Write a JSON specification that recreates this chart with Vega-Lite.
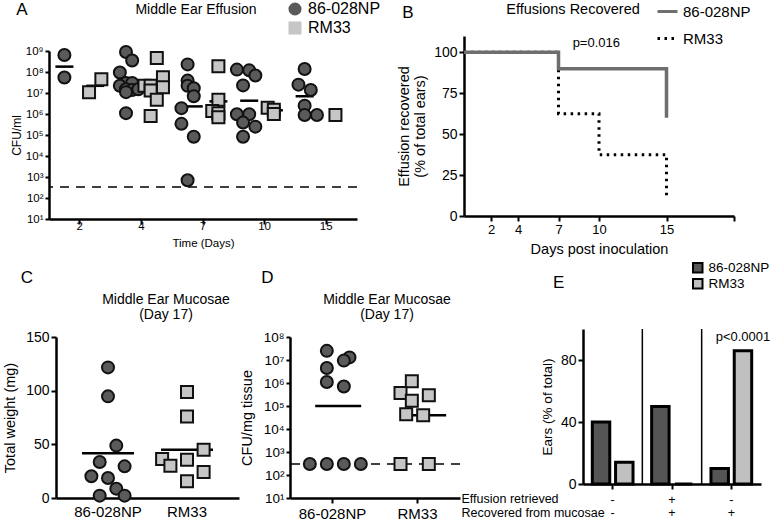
{
  "$schema": "https://vega.github.io/schema/vega-lite/v6.json",
  "background": "white",
  "padding": {"left": 2, "top": 0, "right": 0, "bottom": 0},
  "config": {
    "font": "Liberation Sans",
    "view": {"stroke": null},
    "axis": {"domainColor": "black", "domainWidth": 2.5, "tickColor": "black", "tickWidth": 2, "tickSize": 5, "labelColor": "black", "titleColor": "black", "titleFontWeight": "normal", "grid": false, "labelFontSize": 13, "titleFontSize": 14},
    "title": {"fontWeight": "normal", "color": "black", "fontSize": 14},
    "legend": {"labelColor": "black"}
  },
  "datasets": {
    "ptsA": [
      {"day": 2, "strain": "86-028NP", "cfu": 650000000, "slot": "c3"},
      {"day": 2, "strain": "86-028NP", "cfu": 55000000, "slot": "c3"},
      {"day": 2, "strain": "RM33", "cfu": 11000000, "slot": "s2"},
      {"day": 2, "strain": "RM33", "cfu": 45000000, "slot": "s4"},
      {"day": 4, "strain": "86-028NP", "cfu": 900000000, "slot": "c3"},
      {"day": 4, "strain": "86-028NP", "cfu": 350000000, "slot": "c4"},
      {"day": 4, "strain": "86-028NP", "cfu": 95000000, "slot": "c2"},
      {"day": 4, "strain": "86-028NP", "cfu": 30000000, "slot": "c3"},
      {"day": 4, "strain": "86-028NP", "cfu": 22000000, "slot": "c2"},
      {"day": 4, "strain": "86-028NP", "cfu": 30000000, "slot": "c4"},
      {"day": 4, "strain": "86-028NP", "cfu": 15000000, "slot": "c3"},
      {"day": 4, "strain": "86-028NP", "cfu": 14000000, "slot": "c4"},
      {"day": 4, "strain": "86-028NP", "cfu": 15000000, "slot": "c5"},
      {"day": 4, "strain": "86-028NP", "cfu": 11000000, "slot": "c3"},
      {"day": 4, "strain": "86-028NP", "cfu": 1100000, "slot": "c3"},
      {"day": 4, "strain": "RM33", "cfu": 460000000, "slot": "s3"},
      {"day": 4, "strain": "RM33", "cfu": 56000000, "slot": "s4"},
      {"day": 4, "strain": "RM33", "cfu": 22000000, "slot": "s1"},
      {"day": 4, "strain": "RM33", "cfu": 22000000, "slot": "s2"},
      {"day": 4, "strain": "RM33", "cfu": 19000000, "slot": "s4"},
      {"day": 4, "strain": "RM33", "cfu": 13000000, "slot": "s2"},
      {"day": 4, "strain": "RM33", "cfu": 4800000, "slot": "s3"},
      {"day": 4, "strain": "RM33", "cfu": 800000, "slot": "s2"},
      {"day": 7, "strain": "86-028NP", "cfu": 230000000, "slot": "c3"},
      {"day": 7, "strain": "86-028NP", "cfu": 39000000, "slot": "c3"},
      {"day": 7, "strain": "86-028NP", "cfu": 22000000, "slot": "c3"},
      {"day": 7, "strain": "86-028NP", "cfu": 17000000, "slot": "c4"},
      {"day": 7, "strain": "86-028NP", "cfu": 7000000, "slot": "c4"},
      {"day": 7, "strain": "86-028NP", "cfu": 1900000, "slot": "c2"},
      {"day": 7, "strain": "86-028NP", "cfu": 340000, "slot": "c2"},
      {"day": 7, "strain": "86-028NP", "cfu": 83000, "slot": "c4"},
      {"day": 7, "strain": "86-028NP", "cfu": 700, "slot": "c3"},
      {"day": 7, "strain": "RM33", "cfu": 190000000, "slot": "s3"},
      {"day": 7, "strain": "RM33", "cfu": 4800000, "slot": "s3"},
      {"day": 7, "strain": "RM33", "cfu": 1400000, "slot": "s2"},
      {"day": 7, "strain": "RM33", "cfu": 1100000, "slot": "s3"},
      {"day": 7, "strain": "RM33", "cfu": 700000, "slot": "s3"},
      {"day": 10, "strain": "86-028NP", "cfu": 130000000, "slot": "c1"},
      {"day": 10, "strain": "86-028NP", "cfu": 120000000, "slot": "c3"},
      {"day": 10, "strain": "86-028NP", "cfu": 68000000, "slot": "c4"},
      {"day": 10, "strain": "86-028NP", "cfu": 23000000, "slot": "c2"},
      {"day": 10, "strain": "86-028NP", "cfu": 980000, "slot": "c1"},
      {"day": 10, "strain": "86-028NP", "cfu": 980000, "slot": "c3"},
      {"day": 10, "strain": "86-028NP", "cfu": 390000, "slot": "c2"},
      {"day": 10, "strain": "86-028NP", "cfu": 250000, "slot": "c4"},
      {"day": 10, "strain": "86-028NP", "cfu": 83000, "slot": "c2"},
      {"day": 10, "strain": "RM33", "cfu": 2000000, "slot": "s1"},
      {"day": 10, "strain": "RM33", "cfu": 1600000, "slot": "s2"},
      {"day": 10, "strain": "RM33", "cfu": 1000000, "slot": "s2"},
      {"day": 15, "strain": "86-028NP", "cfu": 140000000, "slot": "c2"},
      {"day": 15, "strain": "86-028NP", "cfu": 25000000, "slot": "c1"},
      {"day": 15, "strain": "86-028NP", "cfu": 14000000, "slot": "c3"},
      {"day": 15, "strain": "86-028NP", "cfu": 2500000, "slot": "c2"},
      {"day": 15, "strain": "86-028NP", "cfu": 900000, "slot": "c2"},
      {"day": 15, "strain": "86-028NP", "cfu": 900000, "slot": "c4"},
      {"day": 15, "strain": "RM33", "cfu": 900000, "slot": "s2"}
    ],
    "meanA": [
      {"day": 2, "strain": "86-028NP", "cfu": 180000000, "slot": "c3"},
      {"day": 2, "strain": "RM33", "cfu": 22000000, "slot": "s3"},
      {"day": 4, "strain": "86-028NP", "cfu": 25000000, "slot": "c3"},
      {"day": 4, "strain": "RM33", "cfu": 27000000, "slot": "s2"},
      {"day": 7, "strain": "86-028NP", "cfu": 2300000, "slot": "c4"},
      {"day": 7, "strain": "RM33", "cfu": 4000000, "slot": "s3"},
      {"day": 10, "strain": "86-028NP", "cfu": 4300000, "slot": "c3"},
      {"day": 10, "strain": "RM33", "cfu": 1500000, "slot": "s2"},
      {"day": 15, "strain": "86-028NP", "cfu": 7000000, "slot": "c2"}
    ],
    "kmB": [
      {"strain": "86-028NP", "day": 0, "pct": 100},
      {"strain": "86-028NP", "day": 7, "pct": 90},
      {"strain": "86-028NP", "day": 15, "pct": 60},
      {"strain": "RM33", "day": 0, "pct": 100},
      {"strain": "RM33", "day": 7, "pct": 62.5},
      {"strain": "RM33", "day": 10, "pct": 37.5},
      {"strain": "RM33", "day": 15, "pct": 12.5}
    ],
    "ptsC": [
      {"strain": "86-028NP", "weight": 121.7, "slot": 0},
      {"strain": "86-028NP", "weight": 94.7, "slot": 0},
      {"strain": "86-028NP", "weight": 48.8, "slot": 1},
      {"strain": "86-028NP", "weight": 33.5, "slot": -1},
      {"strain": "86-028NP", "weight": 29.5, "slot": 2},
      {"strain": "86-028NP", "weight": 20.2, "slot": -2},
      {"strain": "86-028NP", "weight": 18.6, "slot": 0},
      {"strain": "86-028NP", "weight": 8.7, "slot": 1},
      {"strain": "86-028NP", "weight": 2.2, "slot": -1},
      {"strain": "86-028NP", "weight": 2.2, "slot": 2},
      {"strain": "RM33", "weight": 98.8, "slot": 0},
      {"strain": "RM33", "weight": 76, "slot": 0},
      {"strain": "RM33", "weight": 36.3, "slot": -3},
      {"strain": "RM33", "weight": 30.1, "slot": -2},
      {"strain": "RM33", "weight": 35.7, "slot": 0},
      {"strain": "RM33", "weight": 45, "slot": 2},
      {"strain": "RM33", "weight": 24.2, "slot": 2},
      {"strain": "RM33", "weight": 15.5, "slot": 0}
    ],
    "meanC": [
      {"strain": "86-028NP", "weight": 41.6, "slot": 0},
      {"strain": "RM33", "weight": 45, "slot": 0}
    ],
    "ptsD": [
      {"strain": "86-028NP", "cfu": 25000000, "slot": -1},
      {"strain": "86-028NP", "cfu": 13000000, "slot": 3},
      {"strain": "86-028NP", "cfu": 9400000, "slot": 2},
      {"strain": "86-028NP", "cfu": 4500000, "slot": -1},
      {"strain": "86-028NP", "cfu": 1100000, "slot": -1},
      {"strain": "86-028NP", "cfu": 700000, "slot": 2},
      {"strain": "86-028NP", "cfu": 300, "slot": -4},
      {"strain": "86-028NP", "cfu": 300, "slot": -1},
      {"strain": "86-028NP", "cfu": 300, "slot": 2},
      {"strain": "86-028NP", "cfu": 300, "slot": 5},
      {"strain": "RM33", "cfu": 1200000, "slot": -1},
      {"strain": "RM33", "cfu": 370000, "slot": -3},
      {"strain": "RM33", "cfu": 290000, "slot": 2},
      {"strain": "RM33", "cfu": 170000, "slot": -1},
      {"strain": "RM33", "cfu": 44000, "slot": -2},
      {"strain": "RM33", "cfu": 40000, "slot": 1},
      {"strain": "RM33", "cfu": 300, "slot": -3},
      {"strain": "RM33", "cfu": 300, "slot": 2}
    ],
    "meanD": [
      {"strain": "86-028NP", "cfu": 100000, "slot": 1},
      {"strain": "RM33", "cfu": 40000, "slot": 1}
    ],
    "barsE": [
      {"grp": "- -", "strain": "86-028NP", "pct": 40},
      {"grp": "- -", "strain": "RM33", "pct": 14},
      {"grp": "+ +", "strain": "86-028NP", "pct": 50},
      {"grp": "+ +", "strain": "RM33", "pct": 0},
      {"grp": "- +", "strain": "86-028NP", "pct": 10},
      {"grp": "- +", "strain": "RM33", "pct": 86}
    ],
    "sepE": [
      {"grp": "+ +"},
      {"grp": "- +"}
    ]
  },
  "resolve": {"scale": {"x": "independent", "y": "independent", "xOffset": "independent", "color": "independent", "fill": "independent", "shape": "independent", "strokeDash": "independent"}},
  "columns": 1,
  "align": "none",
  "spacing": 5,
  "concat": [
    {
      "hconcat": [
        {
          "title": {"text": "A", "anchor": "start", "fontSize": 17, "offset": -18, "dx": 6},
          "vconcat": [
            {
              "width": 308,
              "height": 168,
              "title": {"text": "Middle Ear Effusion", "fontSize": 14, "offset": 25, "dx": -7, "frame": "group"},
              "layer": [
                {
                  "data": {"values": [{"cfu": 330}]},
                  "mark": {"type": "rule", "strokeDash": [9, 7], "strokeWidth": 1.5, "color": "black"},
                  "encoding": {"y": {"field": "cfu", "type": "quantitative"}}
                },
                {
                  "data": {"name": "meanA"},
                  "mark": {"type": "tick", "color": "black", "thickness": 2.5, "size": 18, "opacity": 1},
                  "encoding": {
                    "x": {"field": "day", "type": "ordinal"},
                    "xOffset": {"field": "slot", "type": "nominal"},
                    "y": {"field": "cfu", "type": "quantitative"}
                  }
                },
                {
                  "data": {"name": "ptsA"},
                  "mark": {"type": "point", "filled": false, "stroke": "#111111", "strokeWidth": 2, "opacity": 1, "fillOpacity": 1, "strokeOpacity": 1},
                  "encoding": {
                    "x": {"field": "day", "type": "ordinal", "scale": {"type": "band", "domain": [2, 4, 7, 10, 15], "paddingInner": 0, "paddingOuter": 0}, "axis": {"title": "Time (Days)", "labelAngle": 0, "labelAlign": "center", "labelFontSize": 11.5, "titleFontSize": 11.5, "titlePadding": 6}},
                    "xOffset": {"field": "slot", "type": "nominal", "scale": {"domain": ["c1", "c2", "c3", "c4", "c5", "s1", "s2", "s3", "s4", "s5"], "paddingInner": 0, "paddingOuter": 0}},
                    "y": {"field": "cfu", "type": "quantitative", "scale": {"type": "log", "domain": [10, 1000000000], "nice": false}, "axis": {"title": "CFU/ml", "titlePadding": 2, "values": [10, 100, 1000, 10000, 100000, 1000000, 10000000, 100000000, 1000000000], "labelExpr": "'10' + ['⁰','¹','²','³','⁴','⁵','⁶','⁷','⁸','⁹'][round(log(datum.value)/LN10)]", "labelFontSize": 11.5, "titleFontSize": 12, "tickSize": 4}},
                    "size": {"value": 144},
                    "shape": {"field": "strain", "type": "nominal", "scale": {"domain": ["86-028NP", "RM33"], "range": ["circle", "square"]}, "legend": {"orient": "none", "legendX": 238, "legendY": -50, "title": null, "labelFontSize": 16, "symbolSize": 170, "symbolStrokeColor": "#111111", "symbolStrokeWidth": 2, "rowPadding": -3, "labelOffset": 5}},
                    "fill": {"field": "strain", "type": "nominal", "scale": {"domain": ["86-028NP", "RM33"], "range": ["#5a5a5a", "#c6c6c6"]}, "legend": {"orient": "none", "legendX": 238, "legendY": -50, "title": null, "labelFontSize": 16, "symbolSize": 170, "symbolStrokeColor": "#111111", "symbolStrokeWidth": 2, "rowPadding": -3, "labelOffset": 5}}
                  }
                }
              ]
            }
          ]
        },
        {
          "title": {"text": "B", "anchor": "start", "fontSize": 17, "offset": -22, "dx": 6},
          "vconcat": [
            {
              "width": 270,
              "height": 165,
              "title": {"text": "Effusions Recovered", "fontSize": 14.5, "offset": 19, "dx": -26, "frame": "group"},
              "layer": [
                {
                  "data": {"name": "kmB"},
                  "transform": [{"filter": "datum.strain == 'RM33'"}],
                  "mark": {"type": "line", "interpolate": "step-after", "strokeWidth": 3},
                  "encoding": {
                    "x": {"field": "day", "type": "quantitative", "scale": {"domain": [0, 20], "nice": false}, "axis": {"title": "Days post inoculation", "values": [2, 4, 7, 10, 15, 20], "labelExpr": "datum.value == 20 ? '' : datum.label", "labelFontSize": 13, "titleFontSize": 14.5, "titlePadding": 6}},
                    "y": {"field": "pct", "type": "quantitative", "scale": {"domain": [0, 110], "nice": false, "range": [165, -15]}, "axis": {"title": ["Effusion recovered", "(% of total ears)"], "values": [0, 25, 50, 75, 100], "labelFontSize": 14, "titleFontSize": 14.5, "titlePadding": 6}},
                    "color": {"field": "strain", "type": "nominal", "scale": {"domain": ["86-028NP", "RM33"], "range": ["#6e6e6e", "#000000"]}, "legend": {"orient": "none", "legendX": 192, "legendY": -51, "title": null, "labelFontSize": 15, "symbolType": "stroke", "symbolStrokeWidth": 3, "symbolSize": 400, "rowPadding": 7}},
                    "strokeDash": {"field": "strain", "type": "nominal", "scale": {"domain": ["86-028NP", "RM33"], "range": [[1, 0], [2.5, 4.5]]}, "legend": {"orient": "none", "legendX": 192, "legendY": -51, "title": null, "labelFontSize": 15, "symbolType": "stroke", "symbolStrokeWidth": 3, "symbolSize": 400, "rowPadding": 7}}
                  }
                },
                {
                  "data": {"name": "kmB"},
                  "transform": [{"filter": "datum.strain == '86-028NP'"}],
                  "mark": {"type": "line", "interpolate": "step-after", "strokeWidth": 3.5},
                  "encoding": {
                    "x": {"field": "day", "type": "quantitative"},
                    "y": {"field": "pct", "type": "quantitative"},
                    "color": {"field": "strain", "type": "nominal"},
                    "strokeDash": {"field": "strain", "type": "nominal"}
                  }
                },
                {
                  "data": {"values": [{"day": 9.8, "pct": 106, "label": "p=0.016"}]},
                  "mark": {"type": "text", "fontSize": 13, "color": "black"},
                  "encoding": {
                    "x": {"field": "day", "type": "quantitative"},
                    "y": {"field": "pct", "type": "quantitative"},
                    "text": {"field": "label"}
                  }
                }
              ]
            }
          ]
        }
      ],
      "spacing": 15,
      "resolve": {"scale": {"x": "independent", "y": "independent", "xOffset": "independent", "color": "independent", "fill": "independent", "shape": "independent", "strokeDash": "independent"}}
    },
    {
      "hconcat": [
        {
          "title": {"text": "C", "anchor": "start", "fontSize": 17, "offset": 6, "dx": 18},
          "vconcat": [
            {
              "width": 190,
              "height": 161,
              "title": {"text": ["Middle Ear Mucosae", "(Day 17)"], "fontSize": 14, "offset": 8, "lineHeight": 15, "dx": 22, "frame": "group"},
              "layer": [
                {
                  "data": {"name": "meanC"},
                  "mark": {"type": "tick", "color": "black", "thickness": 2.5, "size": 52, "opacity": 1},
                  "encoding": {
                    "x": {"field": "strain", "type": "nominal"},
                    "xOffset": {"field": "slot", "type": "nominal"},
                    "y": {"field": "weight", "type": "quantitative"}
                  }
                },
                {
                  "data": {"name": "ptsC"},
                  "mark": {"type": "point", "filled": false, "stroke": "#111111", "strokeWidth": 2, "opacity": 1, "fillOpacity": 1, "strokeOpacity": 1},
                  "encoding": {
                    "x": {"field": "strain", "type": "nominal", "scale": {"type": "band", "domain": ["86-028NP", "RM33"], "paddingInner": 0, "paddingOuter": 0.158, "range": [7, 190]}, "axis": {"title": null, "labelAngle": 0, "labelAlign": "center", "labelFontSize": 15, "ticks": false, "labelPadding": 13}},
                    "xOffset": {"field": "slot", "type": "nominal", "scale": {"domain": [-4, -3, -2, -1, 0, 1, 2, 3, 4], "paddingInner": 0, "paddingOuter": 0.26}},
                    "y": {"field": "weight", "type": "quantitative", "scale": {"domain": [0, 150], "nice": false}, "axis": {"title": "Total weight (mg)", "offset": -7, "values": [0, 50, 100, 150], "labelFontSize": 14, "titleFontSize": 14.5, "titlePadding": 8}},
                    "size": {"value": 144},
                    "shape": {"field": "strain", "type": "nominal", "scale": {"domain": ["86-028NP", "RM33"], "range": ["circle", "square"]}, "legend": null},
                    "fill": {"field": "strain", "type": "nominal", "scale": {"domain": ["86-028NP", "RM33"], "range": ["#5a5a5a", "#c6c6c6"]}, "legend": null}
                  }
                }
              ]
            }
          ]
        },
        {
          "title": {"text": "D", "anchor": "start", "fontSize": 17, "offset": 6, "dx": 22},
          "vconcat": [
            {
              "width": 170,
              "height": 161,
              "title": {"text": ["Middle Ear Mucosae", "(Day 17)"], "fontSize": 14, "offset": 8, "lineHeight": 15, "dx": 12, "frame": "group"},
              "layer": [
                {
                  "data": {"values": [{"cfu": 300}]},
                  "mark": {"type": "rule", "strokeDash": [9, 7], "strokeWidth": 1.5, "color": "black"},
                  "encoding": {"y": {"field": "cfu", "type": "quantitative"}}
                },
                {
                  "data": {"name": "meanD"},
                  "mark": {"type": "tick", "color": "black", "thickness": 2.5, "size": 46, "opacity": 1},
                  "encoding": {
                    "x": {"field": "strain", "type": "nominal"},
                    "xOffset": {"field": "slot", "type": "nominal"},
                    "y": {"field": "cfu", "type": "quantitative"}
                  }
                },
                {
                  "data": {"name": "ptsD"},
                  "mark": {"type": "point", "filled": false, "stroke": "#111111", "strokeWidth": 2, "opacity": 1, "fillOpacity": 1, "strokeOpacity": 1},
                  "encoding": {
                    "x": {"field": "strain", "type": "nominal", "scale": {"type": "band", "domain": ["86-028NP", "RM33"], "paddingInner": 0, "paddingOuter": 0}, "axis": {"title": null, "labelAngle": 0, "labelAlign": "center", "labelFontSize": 15, "labelPadding": 10}},
                    "xOffset": {"field": "slot", "type": "nominal", "scale": {"domain": [-6, -5, -4, -3, -2, -1, 0, 1, 2, 3, 4, 5, 6], "paddingInner": 0, "paddingOuter": 4.7}},
                    "y": {"field": "cfu", "type": "quantitative", "scale": {"type": "log", "domain": [10, 100000000], "nice": false}, "axis": {"title": "CFU/mg tissue", "titlePadding": 9, "values": [10, 100, 1000, 10000, 100000, 1000000, 10000000, 100000000], "labelExpr": "'10' + ['⁰','¹','²','³','⁴','⁵','⁶','⁷','⁸','⁹'][round(log(datum.value)/LN10)]", "labelFontSize": 13.5, "titleFontSize": 14.5, "tickSize": 4}},
                    "size": {"value": 144},
                    "shape": {"field": "strain", "type": "nominal", "scale": {"domain": ["86-028NP", "RM33"], "range": ["circle", "square"]}, "legend": null},
                    "fill": {"field": "strain", "type": "nominal", "scale": {"domain": ["86-028NP", "RM33"], "range": ["#5a5a5a", "#c6c6c6"]}, "legend": null}
                  }
                }
              ]
            }
          ]
        },
        {
          "title": {"text": "E", "anchor": "start", "fontSize": 17, "offset": -31, "dx": 92},
          "vconcat": [
            {
              "width": 178,
              "height": 147,
              "layer": [
                {
                  "data": {"name": "sepE"},
                  "mark": {"type": "rule", "strokeWidth": 1.5, "color": "black"},
                  "encoding": {
                    "x": {"field": "grp", "type": "nominal", "bandPosition": 0},
                    "y": {"datum": 0, "type": "quantitative"},
                    "y2": {"datum": 100}
                  }
                },
                {
                  "data": {"name": "barsE"},
                  "mark": {"type": "bar", "stroke": "black", "strokeWidth": 3},
                  "encoding": {
                    "x": {"field": "grp", "type": "nominal", "sort": null, "scale": {"type": "band", "domain": ["- -", "+ +", "- +"], "paddingInner": 0, "paddingOuter": 0}, "axis": {"labelExpr": "split(datum.label, ' ')", "labelAngle": 0, "labelAlign": "center", "labelFontSize": 12.5, "labelLineHeight": 13, "labelPadding": 10, "title": ["Effusion retrieved", "Recovered from mucosae"], "titleFontSize": 12.5, "titleLineHeight": 14, "titleAnchor": "start", "titleAlign": "left", "titleBaseline": "top", "titleX": -122, "titleY": 8}},
                    "xOffset": {"field": "strain", "type": "nominal", "scale": {"domain": ["86-028NP", "RM33"], "paddingInner": 0.25, "paddingOuter": 0.4}},
                    "y": {"field": "pct", "type": "quantitative", "scale": {"domain": [0, 100], "nice": false, "range": [147, -8]}, "axis": {"title": "Ears (% of total)", "values": [0, 20, 40, 60, 80, 100], "labelFontSize": 14, "titleFontSize": 13.5, "titlePadding": 6}},
                    "fill": {"field": "strain", "type": "nominal", "scale": {"domain": ["86-028NP", "RM33"], "range": ["#555555", "#c0c0c0"]}, "legend": {"orient": "none", "legendX": 108, "legendY": -76, "title": null, "labelFontSize": 13.5, "labelOffset": 4, "symbolType": "square", "symbolSize": 90, "symbolStrokeColor": "black", "symbolStrokeWidth": 2, "rowPadding": -8}}
                  }
                },
                {
                  "data": {"values": [{"grp": "- +", "strain": "RM33", "pct": 95, "label": "p<0.0001"}]},
                  "mark": {"type": "text", "fontSize": 13, "color": "black"},
                  "encoding": {
                    "x": {"field": "grp", "type": "nominal"},
                    "xOffset": {"field": "strain", "type": "nominal"},
                    "y": {"field": "pct", "type": "quantitative"},
                    "text": {"field": "label"}
                  }
                }
              ]
            }
          ]
        }
      ],
      "spacing": 0,
      "resolve": {"scale": {"x": "independent", "y": "independent", "xOffset": "independent", "color": "independent", "fill": "independent", "shape": "independent", "strokeDash": "independent"}}
    }
  ]
}
